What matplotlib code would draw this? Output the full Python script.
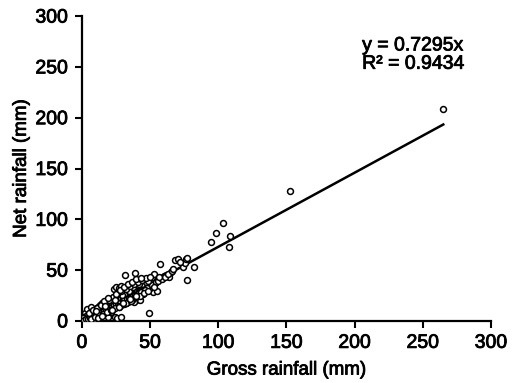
import matplotlib
matplotlib.use("Agg")
import matplotlib.pyplot as plt
import matplotlib.patheffects as pe
import numpy as np

plt.rcParams['font.family'] = ['Liberation Sans', 'DejaVu Sans']

# event rainfall (mm)
gross = [0.5, 1.0, 1.2, 1.5, 2.0, 2.0, 2.5, 3.0, 3.0, 3.5, 4.0, 4.0, 4.5, 5.0, 5.0,
         5.5, 6.0, 6.0, 6.6, 7.0, 7.0, 7.5, 8.0, 8.0, 8.5, 9.0, 9.0, 9.5, 10.0, 10.0,
         10.5, 11.0, 11.0, 11.5, 12.0, 12.0, 12.5, 13.0, 13.0, 13.5, 14.0, 14.0, 14.5,
         15.0, 15.0, 15.5, 16.0, 16.0, 16.5, 17.0, 17.0, 17.5, 18.0, 18.0, 18.5, 19.0,
         19.0, 19.5, 20.0, 20.0, 21.0, 21.0, 22.0, 22.0, 23.0, 23.0, 23.5, 24.0, 24.0,
         25.0, 25.0, 26.0, 26.0, 27.0, 27.0, 28.0, 28.6, 28.6, 29.0, 29.0, 30.0, 30.0,
         31.0, 31.5, 32.0, 32.0, 33.0, 33.0, 34.0, 34.0, 35.0, 35.0, 36.0, 36.0, 37.0,
         37.0, 38.0, 38.0, 39.0, 39.0, 39.6, 40.0, 40.0, 41.0, 41.0, 42.0, 42.5, 43.0,
         44.0, 45.0, 46.0, 47.0, 48.0, 49.0, 50.0, 51.0, 52.0, 53.0, 53.5, 55.0, 55.0,
         57.0, 58.0, 60.0, 62.0, 64.0, 65.0, 68.0, 70.4, 74.0, 75.6, 76.3, 77.0, 77.0,
         82.0, 94.6, 98.3, 103.4, 107.8, 108.6, 152.6, 265.0,
         2.5, 3.5, 4.6, 5.4, 6.5, 7.6, 8.4, 9.6, 10.4, 11.6, 12.4, 13.6, 14.4, 15.6,
         16.4, 17.6, 18.4, 19.6, 20.5, 21.4, 22.6, 23.4, 24.5, 25.6, 26.4, 27.5, 28.4,
         29.6, 30.5, 31.4, 32.6, 33.5, 34.4, 35.6, 36.5, 37.4, 38.6, 39.5, 40.4, 41.6,
         42.4, 43.5, 44.6, 45.4, 46.5, 47.6, 48.4, 49.5,
         21.0, 26.0, 31.0, 36.0, 41.0, 44.0, 47.0, 20.0, 27.0, 33.0, 38.0, 45.0, 50.0,
         18.0, 15.0, 12.0, 9.0, 6.0, 3.0, 1.0, 0.5,
         1.8, 3.2, 4.2, 5.8, 7.2, 8.8, 10.2, 11.8, 13.2, 14.8, 16.2, 17.8, 19.2, 20.8,
         22.2, 23.8, 25.2, 26.8, 28.2, 29.8, 31.2, 32.8, 34.2, 35.8, 37.2, 38.8, 40.2,
         41.8, 43.2, 44.8, 46.2, 48.0, 51.5, 54.0, 56.0, 59.0, 61.0, 63.0, 66.0,
         22.0, 24.5, 29.5, 34.5, 37.5, 42.0, 43.5, 46.0, 48.5, 52.5, 56.5, 66.5, 72.0,
         # spread either side of the main band
         5.0, 8.0, 11.0, 14.0, 17.0, 20.0, 23.0, 26.0, 29.0, 32.0, 35.0, 38.0, 41.0,
         44.0, 47.0, 50.0, 6.5, 9.5, 12.5, 15.5, 18.5, 21.5, 24.5, 27.5, 30.5, 33.5,
         36.5, 39.5, 42.5, 45.5, 48.5, 16.0, 19.0, 25.0, 28.0, 31.0, 34.0, 37.0, 40.0,
         43.0, 12.0, 15.0, 22.0, 27.0, 32.0, 36.0, 30.0, 35.0, 40.0, 10.0, 17.0, 24.0]
net = [0.3, 0.8, 2.5, 0.2, 1.6, 8.0, 1.0, 2.4, 0.5, 12.0, 3.0, 1.2, 4.8, 3.6, 0.8,
       5.5, 4.2, 2.0, 14.0, 5.0, 7.5, 3.2, 6.0, 9.0, 4.5, 6.5, 2.0, 8.0, 7.2, 11.0,
       6.0, 8.0, 12.5, 4.0, 9.0, 14.0, 7.5, 9.5, 16.0, 11.0, 10.2, 6.5, 12.5,
       11.0, 17.5, 9.0, 12.0, 14.5, 18.5, 12.5, 8.0, 15.0, 13.0, 19.5, 11.0, 14.0,
       4.0, 16.5, 14.5, 18.0, 9.0, 15.5, 16.0, 20.5, 17.0, 12.0, 31.5, 17.5, 4.0,
       18.0, 33.0, 19.0, 3.0, 20.0, 32.5, 20.5, 34.0, 4.0, 21.5, 16.0, 22.0, 25.0,
       22.5, 45.0, 23.5, 17.7, 24.0, 28.0, 25.0, 20.0, 25.5, 30.0, 26.0, 22.0, 27.0,
       31.0, 28.0, 24.0, 47.0, 28.5, 22.6, 29.0, 20.7, 24.6, 30.0, 31.0, 21.0, 32.0,
       33.0, 31.0, 34.0, 35.0, 33.0, 8.0, 36.0, 37.0, 28.5, 46.0, 37.0, 29.5, 40.0,
       56.0, 42.0, 44.0, 45.0, 43.0, 48.0, 60.0, 61.0, 53.0, 57.0, 61.0, 40.0, 62.0,
       53.0, 77.7, 86.5, 96.4, 72.8, 83.6, 128.0, 209.0,
       2.0, 2.6, 3.5, 3.8, 5.0, 5.4, 6.4, 6.8, 8.0, 8.3, 9.4, 9.8, 10.8, 11.2,
       12.3, 12.6, 13.9, 14.1, 15.2, 15.5, 16.7, 16.9, 18.2, 18.4, 19.6, 19.8, 21.0,
       21.3, 22.5, 22.7, 24.0, 24.2, 25.5, 25.6, 26.9, 27.0, 28.4, 28.5, 29.8, 29.9,
       31.2, 31.4, 32.8, 32.7, 34.2, 34.3, 35.6, 35.7,
       19.0, 23.0, 27.0, 32.0, 35.0, 36.0, 38.0, 10.0, 14.0, 19.0, 19.0, 27.0, 32.0,
       16.0, 14.0, 11.0, 10.0, 7.0, 5.0, 4.0, 3.0,
       0.9, 1.9, 2.2, 3.3, 4.1, 5.2, 6.0, 7.1, 8.0, 9.1, 10.0, 11.2, 12.0, 13.1,
       14.0, 15.3, 16.2, 17.3, 18.1, 19.4, 20.2, 21.5, 22.3, 23.6, 24.4, 25.7, 26.5,
       27.8, 28.5, 29.9, 30.6, 32.4, 35.0, 38.5, 39.5, 41.0, 43.5, 46.0, 49.0,
       21.0, 24.0, 26.0, 29.0, 33.0, 36.5, 28.0, 30.5, 39.0, 33.0, 43.0, 51.0, 58.0,
       7.5, 10.5, 13.0, 15.5, 18.5, 21.0, 23.5, 26.5, 29.0, 31.0, 34.0, 36.5, 38.0,
       40.5, 42.0, 43.5, 1.5, 3.5, 5.5, 7.0, 9.0, 11.0, 13.0, 15.0, 17.0, 19.0,
       21.0, 23.5, 25.0, 27.5, 29.5, 20.0, 22.5, 27.0, 30.5, 33.5, 36.0, 38.5, 41.0,
       42.5, 3.0, 5.0, 10.5, 14.0, 17.5, 20.0, 18.0, 22.0, 25.0, 9.5, 15.0, 21.0]

slope = 0.7295
r2 = 0.9434

fig = plt.figure(figsize=(5.12, 3.83), dpi=100)
ax = fig.add_axes([0.160, 0.162, 0.799, 0.796])

ax.scatter(gross, net, s=18, facecolors='white', edgecolors='black', linewidths=1.1, zorder=3)

xs = np.array([0, max(gross)])
ax.plot(xs, slope * xs, color='black', lw=1.8, zorder=2)

ax.set_xlim(0, 300)
ax.set_ylim(0, 300)
ax.set_xticks(range(0, 301, 50))
ax.set_yticks(range(0, 301, 50))
for s in ['top', 'right']:
    ax.spines[s].set_visible(False)
for s in ['left', 'bottom']:
    ax.spines[s].set_linewidth(1.6)
ax.tick_params(direction='out', length=5, width=1.5, labelsize=14, pad=5)

ax.set_xlabel('Gross rainfall (mm)', fontsize=13.5, labelpad=7)
ax.set_ylabel('Net rainfall (mm)', fontsize=13.5, labelpad=4)

ax.text(0.685, 0.872, f'y = {slope}x\nR² = {r2}', transform=ax.transAxes,
        fontsize=14, ha='left', va='center', linespacing=1.1)

# the scanned figure has slightly heavy text strokes
heavy = [pe.withStroke(linewidth=0.6, foreground='black')]
for t in ax.get_xticklabels() + ax.get_yticklabels() + ax.texts + [ax.xaxis.label, ax.yaxis.label]:
    t.set_path_effects(heavy)

fig.savefig('out.png', dpi=100)
